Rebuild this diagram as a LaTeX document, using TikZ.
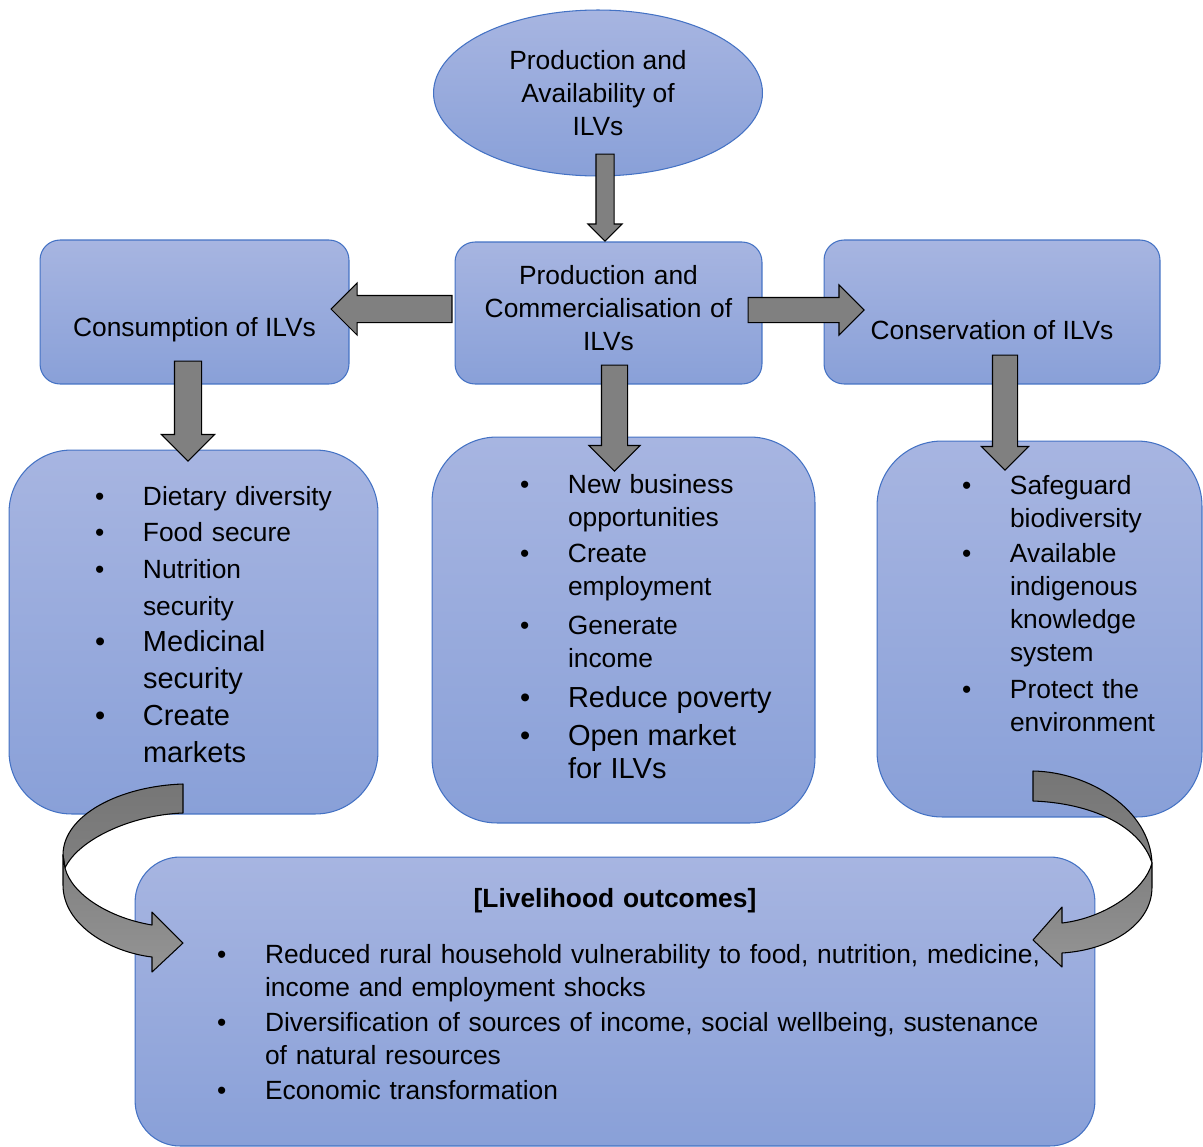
\documentclass[tikz,border=0pt]{standalone}
\usepackage{fontspec}
\setmainfont{Liberation Sans}
\usepackage{tikz}
\usetikzlibrary{shapes.geometric,shapes.arrows,positioning,calc}
\definecolor{BoxTop}{RGB}{167,181,225}
\definecolor{BoxBot}{RGB}{137,160,216}
\definecolor{BoxLine}{RGB}{68,114,196}
\definecolor{ArrDark}{RGB}{118,118,118}
\definecolor{ArrGray}{RGB}{128,128,128}
\definecolor{ArrLight}{RGB}{148,148,148}
\newcommand{\bitem}{\makebox[0.96cm][l]{\textbullet}}
\newcommand{\bcont}{\hspace*{0.96cm}}
\newcommand{\lgtext}{\fontsize{16.5}{18.8}\selectfont}

\begin{document}
\begin{tikzpicture}[x=0.02cm, y=-0.02cm,
  boxfill/.style={draw=BoxLine, line width=0.6pt, top color=BoxTop, bottom color=BoxBot,
                  font=\fontsize{15}{18.8}\selectfont},
  topbox/.style={boxfill, rounded corners=0.4cm, inner sep=0pt, align=center},
  listbox/.style={boxfill, rounded corners=1.3cm, inner xsep=0.2cm, inner ysep=0pt, align=left},
  blockarrow/.style={single arrow, draw=black, line width=0.6pt, fill=ArrGray,
                     inner xsep=0pt, anchor=tail},
  ribbon/.style={draw=black, line width=0.6pt, line join=round},
]
\useasboundingbox (0,0) rectangle (1203,1146);

% top row
\node[boxfill, ellipse, inner sep=0pt, align=center, minimum width=6.58cm, minimum height=3.32cm] (avail) at (598,93) {Production and\\Availability of\\ILVs};
\node[topbox, inner xsep=0.2cm, text width=5.74cm, text height=0.84cm, text depth=2.0cm] (commerce) at (608.5,313) {Production and\\Commercialisation of\\ILVs\par};
\node[topbox, minimum width=6.18cm, text height=1.92cm, text depth=0.96cm] (consume) at (194.5,312) {Consumption of ILVs};
\node[topbox, minimum width=6.72cm, text height=2.0cm, text depth=0.88cm] (conserve) at (992,312) {Conservation of ILVs};

% benefit boxes
\node[listbox, rounded corners=1.25cm, text width=6.98cm, text height=1.1cm, text depth=6.18cm,
      font=\fontsize{15}{20.9}\selectfont] (consumeben) at (193.5,632) {\leftskip=1.52cm
  \bitem Dietary diversity\\
  \bitem Food secure\\
  \bitem Nutrition\\
  \bcont security\\
  {\fontsize{16.5}{20.9}\selectfont\bitem Medicinal}\\
  {\fontsize{16.5}{20.9}\selectfont\bcont security}\\
  {\fontsize{16.5}{20.9}\selectfont\bitem Create}\\
  {\fontsize{16.5}{20.9}\selectfont\bcont markets}\par};
\node[listbox, text width=7.26cm, text height=1.12cm, text depth=6.6cm] (commerceben) at (623.5,630) {\leftskip=1.56cm
  \bitem New business\\
  \bcont opportunities\\[0.06cm]
  \bitem Create\\
  \bcont employment\\[0.12cm]
  \bitem Generate\\
  \bcont income\\[0.14cm]
  {\lgtext\bitem Reduce poverty}\\[0.1cm]
  {\lgtext\bitem Open market}\\
  {\lgtext\bcont for ILVs}\par};
\node[listbox, text width=6.1cm, text height=1.06cm, text depth=6.46cm] (conserveben) at (1039.5,629) {\leftskip=1.5cm
  \bitem Safeguard\\
  \bcont biodiversity\\[0.04cm]
  \bitem Available\\
  \bcont indigenous\\
  \bcont knowledge\\
  \bcont system\\[0.08cm]
  \bitem Protect the\\
  \bcont environment\par};

% outcomes
\node[listbox, rounded corners=0.9cm, text width=18.8cm, text height=1.0cm, text depth=4.78cm] (outcome) at (615,1001.5) {%
  \makebox[18.8cm]{\bfseries [Livelihood outcomes]}\\[0.46cm]
  \leftskip=1.44cm
  \bitem Reduced rural household vulnerability to food, nutrition, medicine,\\
  \bcont income and employment shocks\\[0.04cm]
  \bitem Diversification of sources of income, social wellbeing, sustenance\\
  \bcont of natural resources\\[0.04cm]
  \bitem Economic transformation\par};

% straight block arrows
\node[blockarrow, rotate=-90, inner ysep=0.17cm, single arrow head extend=0.16cm, minimum height=1.74cm] (a1) at ([xshift=0.14cm, yshift=0.46cm]avail.south) {};
\node[blockarrow, rotate=180, inner ysep=0.26cm, single arrow head extend=0.25cm, minimum height=2.42cm] (a2) at ([xshift=-0.04cm, yshift=0.08cm]commerce.west) {};
\node[blockarrow, inner ysep=0.24cm, single arrow head extend=0.25cm, minimum height=2.32cm] (a3) at ([xshift=-0.3cm, yshift=0.06cm]commerce.east) {};
\node[blockarrow, rotate=-90, inner ysep=0.26cm, single arrow head extend=0.26cm, minimum height=2.0cm] (a4) at ([xshift=-0.13cm, yshift=0.48cm]consume.south) {};
\node[blockarrow, rotate=-90, inner ysep=0.25cm, single arrow head extend=0.25cm, minimum height=2.12cm] (a5) at ([xshift=0.12cm, yshift=0.4cm]commerce.south) {};
\node[blockarrow, rotate=-90, inner ysep=0.24cm, single arrow head extend=0.22cm, minimum height=2.3cm] (a6) at ([xshift=0.26cm, yshift=0.6cm]conserve.south) {};

% curved arrows into the outcomes box
\draw[ribbon, top color=ArrDark, bottom color=ArrGray] (183,784) .. controls (120,786) and (63,815) .. (63,855)
  -- (65,868) .. controls (78,840) and (130,815) .. (183,813) -- cycle;
\draw[ribbon, top color=ArrGray, bottom color=ArrLight] (63,855) -- (63,885) .. controls (63,925) and (110,952) .. (152,957)
  -- (152,972) -- (183,943) -- (152,912) -- (152,925) .. controls (110,918) and (72,895) .. (65,868) -- cycle;
\draw[ribbon, top color=ArrDark, bottom color=ArrGray] (1033,771) .. controls (1090,772) and (1150,810) .. (1152,863)
  .. controls (1140,825) and (1090,803) .. (1033,801) -- cycle;
\draw[ribbon, top color=ArrGray, bottom color=ArrLight] (1152,863) -- (1152,887) .. controls (1152,925) and (1110,950) .. (1062,953)
  -- (1062,967) -- (1033,940) -- (1062,907) -- (1062,923) .. controls (1105,918) and (1145,890) .. (1152,863) -- cycle;
\end{tikzpicture}
\end{document}
